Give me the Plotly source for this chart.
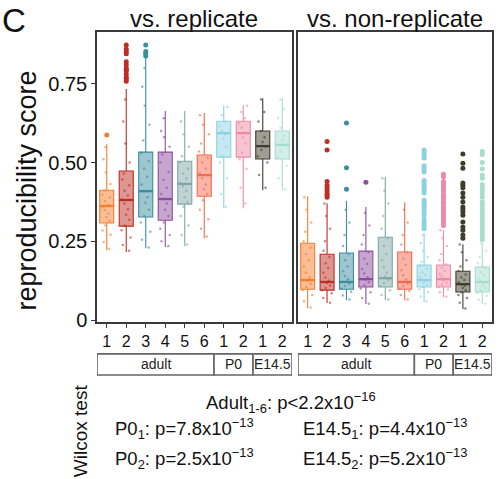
import plotly.graph_objects as go

# groups along the x axis (same order in both panels)
tick_labels = ["1", "2", "3", "4", "5", "6", "1", "2", "1", "2"]
positions = list(range(1, 11))
group_colors = ["#F47E2E", "#BE2E24", "#3B8DA0", "#8D4D9E", "#7FA7A8",
                "#F26A4F", "#8DD2E2", "#EF8AA6", "#3E3D2B", "#A6DDCD"]
strip_names = ["adult", "P0", "E14.5"]
strip_spans = [(1, 6), (7, 8), (9, 10)]

# vs. replicate: box stats
rep_low = [0.222, 0.216, 0.228, 0.232, 0.235, 0.260, 0.355, 0.355, 0.412, 0.412]
rep_q1 = [0.308, 0.298, 0.327, 0.317, 0.368, 0.393, 0.517, 0.517, 0.511, 0.511]
rep_med = [0.362, 0.381, 0.409, 0.384, 0.432, 0.460, 0.593, 0.593, 0.552, 0.556]
rep_q3 = [0.412, 0.473, 0.533, 0.533, 0.504, 0.524, 0.631, 0.631, 0.600, 0.600]
rep_high = [0.558, 0.733, 0.850, 0.663, 0.663, 0.657, 0.682, 0.682, 0.704, 0.704]
rep_out = [
    [0.587],
    [0.873, 0.860, 0.852, 0.845, 0.820, 0.810, 0.800, 0.795, 0.790, 0.780, 0.770, 0.765, 0.758],
    [0.873, 0.852, 0.846, 0.838],
    [], [], [], [], [], [], [],
]
rep_pts = [
    [0.226, 0.248, 0.271, 0.284, 0.301, 0.315, 0.327, 0.338, 0.349, 0.358, 0.366, 0.377, 0.389, 0.398, 0.41, 0.432, 0.468, 0.51, 0.548],
    [0.22, 0.238, 0.262, 0.285, 0.30, 0.318, 0.334, 0.352, 0.37, 0.383, 0.395, 0.41, 0.428, 0.446, 0.465, 0.50, 0.56, 0.63, 0.70],
    [0.23, 0.255, 0.28, 0.31, 0.33, 0.35, 0.372, 0.39, 0.41, 0.43, 0.455, 0.48, 0.505, 0.53, 0.57, 0.62, 0.68, 0.74, 0.80],
    [0.235, 0.25, 0.27, 0.29, 0.31, 0.33, 0.35, 0.37, 0.385, 0.40, 0.42, 0.445, 0.47, 0.50, 0.525, 0.55, 0.58, 0.60, 0.64],
    [0.24, 0.27, 0.30, 0.33, 0.36, 0.375, 0.39, 0.41, 0.425, 0.435, 0.45, 0.465, 0.48, 0.50, 0.52, 0.55, 0.59, 0.63],
    [0.265, 0.29, 0.32, 0.35, 0.38, 0.40, 0.415, 0.43, 0.45, 0.465, 0.48, 0.50, 0.515, 0.535, 0.56, 0.59, 0.62, 0.65],
    [0.36, 0.40, 0.45, 0.50, 0.52, 0.55, 0.575, 0.59, 0.60, 0.615, 0.63, 0.65, 0.675],
    [0.37, 0.42, 0.48, 0.51, 0.53, 0.56, 0.58, 0.595, 0.61, 0.625, 0.64, 0.66, 0.68],
    [0.42, 0.46, 0.50, 0.52, 0.54, 0.55, 0.565, 0.58, 0.60, 0.63, 0.66, 0.70],
    [0.415, 0.45, 0.49, 0.515, 0.535, 0.555, 0.57, 0.585, 0.61, 0.64, 0.67, 0.70],
]

# vs. non-replicate
non_low = [0.038, 0.054, 0.063, 0.051, 0.063, 0.063, 0.057, 0.073, 0.035, 0.051]
non_q1 = [0.098, 0.095, 0.098, 0.105, 0.105, 0.098, 0.105, 0.105, 0.089, 0.089]
non_med = [0.127, 0.121, 0.121, 0.130, 0.133, 0.121, 0.127, 0.130, 0.114, 0.121]
non_q3 = [0.244, 0.209, 0.213, 0.219, 0.263, 0.216, 0.175, 0.175, 0.155, 0.168]
non_high = [0.393, 0.371, 0.378, 0.359, 0.454, 0.374, 0.276, 0.286, 0.241, 0.244]
non_out = [
    [],
    [0.567, 0.540, 0.440, 0.428, 0.418, 0.410, 0.402, 0.396, 0.390],
    [0.625, 0.483, 0.415],
    [0.437],
    [], [],
    [0.540, 0.533, 0.527, 0.520, 0.514, 0.490, 0.483, 0.476, 0.470, 0.443, 0.437, 0.430, 0.424, 0.416,
     0.410, 0.403, 0.380, 0.375, 0.365, 0.358, 0.350, 0.340, 0.333, 0.320, 0.313, 0.305, 0.298, 0.290],
    [0.463, 0.455, 0.440, 0.432, 0.425, 0.418, 0.410, 0.400, 0.393, 0.385, 0.378, 0.370, 0.360, 0.352,
     0.345, 0.337, 0.330, 0.322, 0.315, 0.308, 0.300],
    [0.527, 0.498, 0.482, 0.435, 0.428, 0.420, 0.403, 0.390, 0.375, 0.359, 0.352, 0.343, 0.333, 0.311,
     0.295, 0.285, 0.270, 0.260],
    [0.536, 0.525, 0.500, 0.480, 0.460, 0.450, 0.430, 0.420, 0.410, 0.400, 0.390, 0.375, 0.365, 0.355,
     0.345, 0.335, 0.325, 0.315, 0.305, 0.295, 0.285, 0.275, 0.265, 0.255],
]
non_pts = [
    [0.04, 0.06, 0.08, 0.095, 0.105, 0.115, 0.125, 0.135, 0.15, 0.17, 0.19, 0.21, 0.23, 0.25, 0.28, 0.31, 0.35, 0.39],
    [0.055, 0.07, 0.085, 0.095, 0.102, 0.11, 0.118, 0.125, 0.135, 0.15, 0.165, 0.18, 0.2, 0.22, 0.25, 0.29, 0.33, 0.37],
    [0.065, 0.078, 0.09, 0.1, 0.108, 0.115, 0.122, 0.13, 0.14, 0.155, 0.17, 0.19, 0.21, 0.235, 0.27, 0.31, 0.35],
    [0.052, 0.07, 0.088, 0.1, 0.11, 0.12, 0.128, 0.136, 0.148, 0.162, 0.178, 0.195, 0.215, 0.24, 0.27, 0.3, 0.34],
    [0.065, 0.08, 0.095, 0.108, 0.118, 0.128, 0.138, 0.15, 0.168, 0.19, 0.21, 0.235, 0.26, 0.29, 0.33, 0.37, 0.41, 0.45],
    [0.065, 0.08, 0.092, 0.1, 0.108, 0.115, 0.122, 0.13, 0.142, 0.158, 0.175, 0.195, 0.215, 0.24, 0.27, 0.31, 0.35],
    [0.06, 0.075, 0.088, 0.098, 0.105, 0.112, 0.118, 0.124, 0.13, 0.136, 0.143, 0.152, 0.162, 0.172, 0.185, 0.2, 0.22, 0.245, 0.27],
    [0.075, 0.088, 0.097, 0.105, 0.112, 0.119, 0.126, 0.132, 0.139, 0.147, 0.156, 0.166, 0.177, 0.19, 0.21, 0.235, 0.26, 0.285],
    [0.037, 0.055, 0.07, 0.08, 0.088, 0.095, 0.102, 0.108, 0.114, 0.12, 0.127, 0.135, 0.145, 0.156, 0.17, 0.19, 0.215, 0.24],
    [0.052, 0.065, 0.077, 0.086, 0.094, 0.102, 0.11, 0.118, 0.125, 0.133, 0.142, 0.152, 0.165, 0.18, 0.2, 0.22, 0.243],
]

BOX_W = 0.72
FONT = "Liberation Sans, Arial, sans-serif"
AXIS_COL = "#3a3a3a"


def rgba(hex_col, a):
    h = hex_col.lstrip("#")
    r, g, b = int(h[0:2], 16), int(h[2:4], 16), int(h[4:6], 16)
    return f"rgba({r},{g},{b},{a})"


fig = go.Figure()


def add_panel(xa, ya, low, q1, med, q3, high, outs, pts):
    for i, pos in enumerate(positions):
        col = group_colors[i]
        fig.add_trace(go.Box(
            x=[pos], q1=[q1[i]], median=[med[i]], q3=[q3[i]],
            lowerfence=[low[i]], upperfence=[high[i]],
            width=BOX_W, whiskerwidth=0, boxpoints=False,
            fillcolor=rgba(col, 0.5), line=dict(color=col, width=1.1),
            xaxis=xa, yaxis=ya, hoverinfo="skip", showlegend=False,
        ))
        # thicker median like ggplot
        fig.add_trace(go.Scatter(
            x=[pos - BOX_W / 2, pos + BOX_W / 2], y=[med[i], med[i]],
            mode="lines", line=dict(color=col, width=2.3),
            xaxis=xa, yaxis=ya, hoverinfo="skip", showlegend=False,
        ))
        # jittered points (plotly does the jitter), box itself hidden
        fig.add_trace(go.Box(
            x=[pos] * len(pts[i]), y=pts[i], width=BOX_W,
            boxpoints="all", jitter=0.85, pointpos=0,
            fillcolor="rgba(0,0,0,0)", line=dict(color="rgba(0,0,0,0)", width=0),
            marker=dict(color=rgba(col, 0.6), size=2.5),
            xaxis=xa, yaxis=ya, hoverinfo="skip", showlegend=False,
        ))
        if outs[i]:
            fig.add_trace(go.Scatter(
                x=[pos] * len(outs[i]), y=outs[i], mode="markers",
                marker=dict(color=col, size=5),
                xaxis=xa, yaxis=ya, hoverinfo="skip", showlegend=False,
            ))


add_panel("x", "y", rep_low, rep_q1, rep_med, rep_q3, rep_high, rep_out, rep_pts)
add_panel("x2", "y2", non_low, non_q1, non_med, non_q3, non_high, non_out, non_pts)

xaxis_style = dict(
    range=[0.5, 10.5], tickvals=positions, ticktext=tick_labels,
    ticks="outside", ticklen=4, tickcolor=AXIS_COL, tickwidth=1.2,
    showline=True, linecolor=AXIS_COL, linewidth=1.5, mirror=True,
    showgrid=False, zeroline=False, tickfont=dict(size=16, color="#111"),
)

fig.update_layout(
    width=498, height=479,
    margin=dict(l=97, r=4, t=32, b=157),
    paper_bgcolor="white", plot_bgcolor="white",
    font=dict(family=FONT, color="#111"),
    showlegend=False, boxmode="overlay",
    xaxis=dict(domain=[0, 0.4937], **xaxis_style),
    xaxis2=dict(domain=[0.5088, 1], anchor="y2", **xaxis_style),
    yaxis=dict(
        range=[-0.006, 0.914], tickvals=[0, 0.25, 0.5, 0.75],
        ticktext=["0", "0.25", "0.50", "0.75"],
        ticks="outside", ticklen=4, tickcolor=AXIS_COL, tickwidth=1.2,
        showline=True, linecolor=AXIS_COL, linewidth=1.5, mirror=True,
        showgrid=False, zeroline=False, tickfont=dict(size=20, color="#111"),
    ),
    yaxis2=dict(
        range=[-0.006, 0.914], anchor="x2", showticklabels=False, ticks="",
        showline=True, linecolor=AXIS_COL, linewidth=1.5, mirror=True,
        showgrid=False, zeroline=False,
    ),
)

# strip boxes under the x labels
for xa in ["x", "x2"]:
    for name, (a, b) in zip(strip_names, strip_spans):
        fig.add_shape(type="rect", xref=xa, yref="paper",
                      x0=a - 0.5, x1=b + 0.5, y0=-0.183, y1=-0.110,
                      line=dict(color="#666", width=1.6), fillcolor="white")
        fig.add_annotation(text=name, xref=xa, yref="paper",
                           x=(a + b) / 2, y=-0.1465, showarrow=False,
                           xanchor="center", yanchor="middle",
                           font=dict(size=14, color="#222"))

annots = [
    dict(text="C", x=-0.245, y=1.11, xanchor="left", yanchor="top", font=dict(size=33)),
    dict(text="vs. replicate", x=0.2468, y=1.048, font=dict(size=24)),
    dict(text="vs. non-replicate", x=0.7544, y=1.048, font=dict(size=24)),
    dict(text="reproducibility score", x=-0.176, y=0.455, textangle=-90, font=dict(size=27)),
    dict(text="Wilcox test", x=-0.0428, y=-0.376, textangle=-90, font=dict(size=19)),
    dict(text="Adult<sub>1-6</sub>: p<2.2x10<sup>\u221216</sup>", x=0.491, y=-0.278, font=dict(size=18.5)),
    dict(text="P0<sub>1</sub>: p=7.8x10<sup>\u221213</sup>", x=0.0403, y=-0.366, xanchor="left", font=dict(size=18.5)),
    dict(text="E14.5<sub>1</sub>: p=4.4x10<sup>\u221213</sup>", x=0.516, y=-0.366, xanchor="left", font=dict(size=18.5)),
    dict(text="P0<sub>2</sub>: p=2.5x10<sup>\u221213</sup>", x=0.0403, y=-0.469, xanchor="left", font=dict(size=18.5)),
    dict(text="E14.5<sub>2</sub>: p=5.2x10<sup>\u221213</sup>", x=0.516, y=-0.469, xanchor="left", font=dict(size=18.5)),
]
for a in annots:
    a.setdefault("xanchor", "center")
    a.setdefault("yanchor", "middle")
    fig.add_annotation(xref="paper", yref="paper", showarrow=False, **a)

# page has an 8px body margin by default; drop it so the figure sits at 0,0
fig.write_html("out.html", config={"displayModeBar": False},
               post_script="document.body.style.margin='0';")
